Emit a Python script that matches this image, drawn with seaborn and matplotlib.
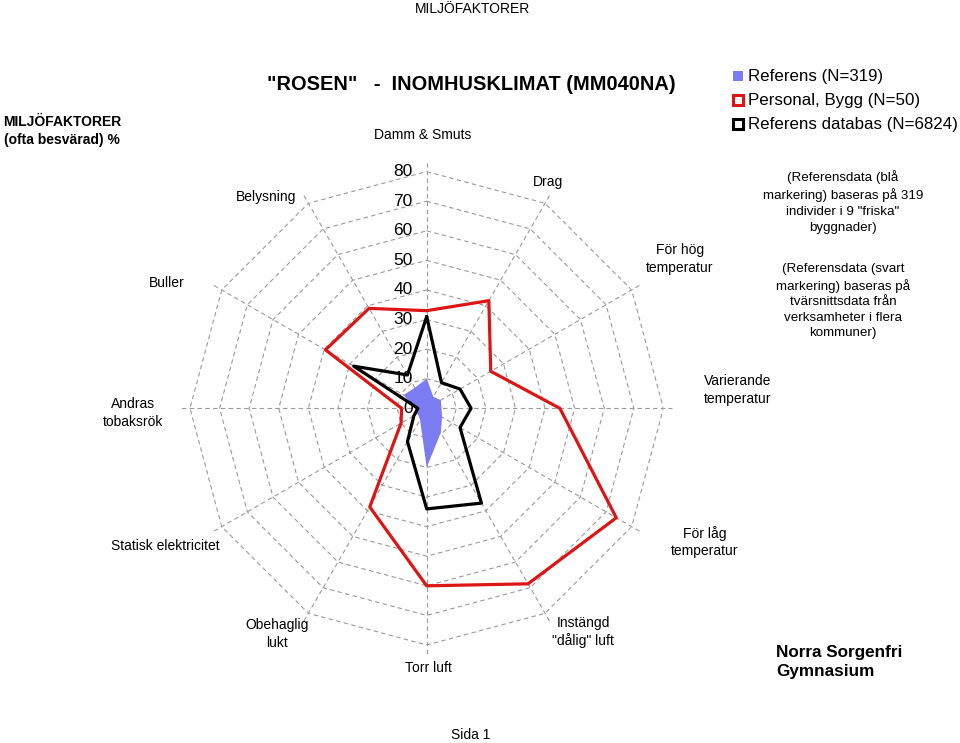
import numpy as np
import pandas as pd
import matplotlib
matplotlib.use("Agg")
import matplotlib.pyplot as plt
import seaborn as sns
from matplotlib.patches import Rectangle

# ---------------- data ----------------
categories = ["Damm & Smuts", "Drag", "För hög\ntemperatur", "Varierande\ntemperatur",
              "För låg\ntemperatur", "Instängd\n\"dålig\" luft", "Torr luft", "Obehaglig\nlukt",
              "Statisk elektricitet", "Andras\ntobaksrök", "Buller", "Belysning"]
referens = [10, 4.5, 5.5, 5, 6, 9.5, 20, 4.5, 3.5, 4, 9, 8]
personal_bygg = [33, 42, 25, 45, 74, 68.5, 60, 38.5, 10, 8.5, 39.5, 39]
referens_databas = [31, 10, 13, 15, 13, 37, 34, 13, 5, 3, 28.5, 13]
r_ticks = [0, 10, 20, 30, 40, 50, 60, 70, 80]
series_names = ["Referens (N=319)", "Personal, Bygg (N=50)", "Referens databas (N=6824)"]

# ---------------- layout ----------------
W, H = 960, 743
CX, CY, RAD = 426.7, 408.3, 236.7
label_px = [(423, 135), (548, 182), (680, 259), (738, 390), (705, 542), (583, 632),
            (428, 668), (277, 634), (165, 546), (133, 413), (167, 283), (266, 197)]

sns.set_theme(style="white")
plt.rcParams["font.family"] = ["Liberation Sans", "DejaVu Sans"]
plt.rcParams["text.color"] = "black"

def fx(x):
    return x / W

def fy(y):
    return 1 - y / H

fig = plt.figure(figsize=(W / 100, H / 100), dpi=100)
fig.patch.set_facecolor("white")
ax = fig.add_axes([fx(CX - RAD), fy(CY + RAD), 2 * RAD / W, 2 * RAD / H], projection="polar")
ax.set_theta_zero_location("N")
ax.set_theta_direction(-1)
ax.patch.set_visible(False)
ax.spines["polar"].set_visible(False)
ax.grid(False)
ax.set_xticks([])
ax.set_yticks([])

n = len(categories)
theta = np.arange(n) * 2 * np.pi / n
theta_c = np.append(theta, 2 * np.pi)

def close(v):
    return np.append(np.asarray(v, float), v[0])

# grid polygons and spokes
grid_kw = dict(color="#9a9a9a", lw=0.8, ls=(0, (4, 3)), zorder=1)
for r in r_ticks[1:]:
    ax.plot(theta_c, [r] * (n + 1), **grid_kw)
for t in theta:
    ax.plot([t, t], [0, 83], clip_on=False, **grid_kw)

# series
df_blue = pd.DataFrame({"theta": theta_c, "value": close(referens)})
ax.fill(df_blue["theta"], df_blue["value"], color="#7b7bf2", lw=0, zorder=2)
df_red = pd.DataFrame({"theta": theta_c, "value": close(personal_bygg)})
df_black = pd.DataFrame({"theta": theta_c, "value": close(referens_databas)})
sns.lineplot(data=df_red, x="theta", y="value", sort=False, estimator=None,
             color="#dd1515", lw=2.3, ax=ax, zorder=4)
sns.lineplot(data=df_black, x="theta", y="value", sort=False, estimator=None,
             color="black", lw=2.3, ax=ax, zorder=5)
ax.set_xlabel("")
ax.set_ylabel("")
ax.set_ylim(0, 80)
ax.set_xticks([])
ax.set_yticks([])

# radial tick labels
for v in r_ticks:
    ax.annotate(str(v), xy=(0, v), xytext=(-10, 0), textcoords="offset points",
                ha="right", va="center", fontsize=12.5, color="black", zorder=3)

# category labels
for lab, (x, y) in zip(categories, label_px):
    fig.text(fx(x), fy(y), lab, ha="center", va="center", fontsize=10,
             linespacing=1.3, color="black")

# titles
fig.text(fx(472), fy(9), "MILJÖFAKTORER", ha="center", va="center", fontsize=10)
fig.text(fx(471), fy(85), "\"ROSEN\"   -  INOMHUSKLIMAT (MM040NA)", ha="center",
         va="center", fontsize=14.4, fontweight="bold")
fig.text(fx(62), fy(131), "MILJÖFAKTORER\n(ofta besvärad) %", ha="center", va="center",
         fontsize=10, fontweight="bold", linespacing=1.35)
fig.text(fx(471), fy(735), "Sida 1", ha="center", va="center", fontsize=10)

# legend
leg_y = [76, 100, 124]
styles = [dict(facecolor="#7b7bf2", edgecolor="#7b7bf2", lw=0),
          dict(facecolor="white", edgecolor="#dd1515", lw=2.2),
          dict(facecolor="white", edgecolor="black", lw=2.2)]
for name, y, st in zip(series_names, leg_y, styles):
    fig.patches.append(Rectangle((fx(733), fy(y + 5)), 10 / W, 10 / H,
                                 transform=fig.transFigure, **st))
    fig.text(fx(748), fy(y), name, ha="left", va="center", fontsize=12.2)

# notes
fig.text(fx(843), fy(202), "(Referensdata (blå\nmarkering) baseras på 319\nindivider i 9 \"friska\"\nbyggnader)",
         ha="center", va="center", fontsize=9.6, linespacing=1.42)
fig.text(fx(843), fy(301), "(Referensdata (svart\nmarkering) baseras på\ntvärsnittsdata från\nverksamheter i flera\nkommuner)",
         ha="center", va="center", fontsize=9.6, linespacing=1.36)
fig.text(fx(776), fy(662), "Norra Sorgenfri\nGymnasium", ha="left", va="center",
         fontsize=12.3, fontweight="bold", linespacing=1.38)

fig.savefig("out.png", dpi=100, facecolor="white")
